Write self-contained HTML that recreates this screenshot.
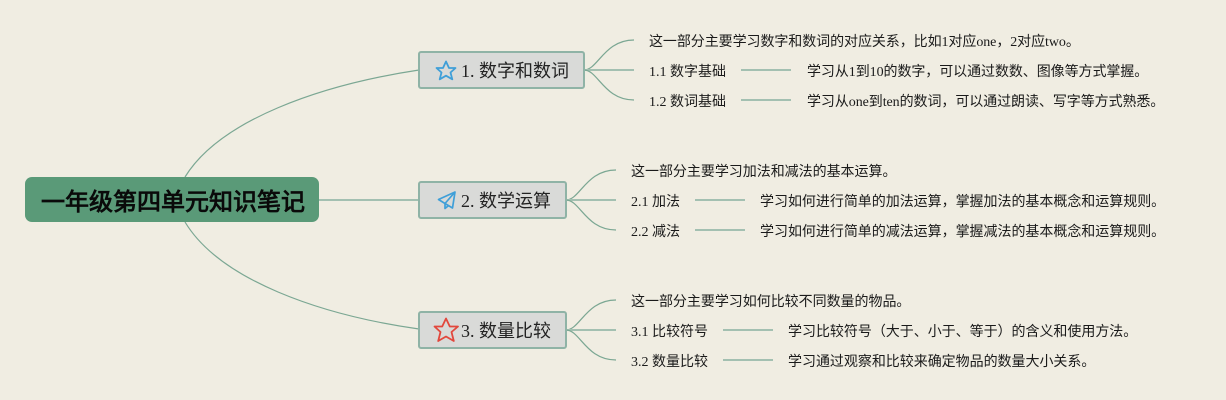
<!DOCTYPE html>
<html><head><meta charset="utf-8"><style>
html,body{margin:0;padding:0;background:#f0ede2;width:1226px;height:400px;overflow:hidden}
svg{display:block}
text{font-family:"Liberation Serif","WenQuanYi Zen Hei",sans-serif;fill:#1a1a1a}
.s{font-size:14px}
.a{letter-spacing:-.07px}
.b{letter-spacing:-.03px}
.t{font-size:18px;fill:#222}
.box{fill:#d9dad8;stroke:#8fb3a6;stroke-width:2}
.l{fill:none;stroke:#7ba793;stroke-width:1.2}
.h{fill:none;stroke:#a3c0b1;stroke-width:2}
</style></head><body>
<svg width="1226" height="400" viewBox="0 0 1226 400" xmlns="http://www.w3.org/2000/svg">
<rect width="1226" height="400" fill="#f0ede2"/>
<path class="l" d="M185 177C220 120 320 85 419 70"/>
<path class="l" d="M185 222C220 280 320 315 419 329"/>
<path class="h" d="M319 200H419"/>
<rect x="25" y="177" width="294" height="45" rx="7" fill="#5a9a78"/>
<text x="41" y="210" style="font-size:24px;font-weight:bold;fill:#0a0a0a">一年级第四单元知识笔记</text>

<path class="l" d="M584 70C598 70 604 40 634 40"/>
<path class="h" d="M584 70H634"/>
<path class="l" d="M584 70C598 70 604 100 634 100"/>
<rect class="box" x="419" y="52" width="165" height="36" rx="2"/>
<path d="M446 61.500L449 68H455.500L450.500 72.500L452.300 79.300L446 75.700L439.700 79.300L441.500 72.500L436.500 68H443Z" fill="none" stroke="#3f9fd8" stroke-width="1.800" stroke-linejoin="round"/>
<text class="t" x="461" y="77">1. 数字和数词</text>
<text class="s a" x="649" y="46">这一部分主要学习数字和数词的对应关系，比如1对应one，2对应two。</text>
<text class="s" x="649" y="76">1.1 数字基础</text>
<path class="h" d="M741 70H791"/>
<text class="s a" x="807" y="76">学习从1到10的数字，可以通过数数、图像等方式掌握。</text>
<text class="s" x="649" y="106">1.2 数词基础</text>
<path class="h" d="M741 100H791"/>
<text class="s a" x="807" y="106">学习从one到ten的数词，可以通过朗读、写字等方式熟悉。</text>

<path class="l" d="M566 200C580 200 586 170 616 170"/>
<path class="h" d="M566 200H616"/>
<path class="l" d="M566 200C580 200 586 230 616 230"/>
<rect class="box" x="419" y="182" width="147" height="36" rx="2"/>
<path d="M455 192L438.500 199.500L445 203.500L455 192L452.500 208L445 203.500V208.500L448.500 205.600" fill="none" stroke="#3f9fd8" stroke-width="1.700" stroke-linejoin="round"/>
<text class="t" x="461" y="207">2. 数学运算</text>
<text class="s b" x="631" y="176">这一部分主要学习加法和减法的基本运算。</text>
<text class="s" x="631" y="206">2.1 加法</text>
<path class="h" d="M695 200H745"/>
<text class="s b" x="760" y="206">学习如何进行简单的加法运算，掌握加法的基本概念和运算规则。</text>
<text class="s" x="631" y="236">2.2 减法</text>
<path class="h" d="M695 230H745"/>
<text class="s b" x="760" y="236">学习如何进行简单的减法运算，掌握减法的基本概念和运算规则。</text>

<path class="l" d="M566 330C580 330 586 300 616 300"/>
<path class="h" d="M566 330H616"/>
<path class="l" d="M566 330C580 330 586 360 616 360"/>
<rect class="box" x="419" y="312" width="147" height="36" rx="2"/>
<path d="M446 318.500L449.800 326.500H458L451.500 332L453.800 341L446 336.500L438.200 341L440.500 332L434.500 326.500H442.200Z" fill="none" stroke="#e2483d" stroke-width="1.800" stroke-linejoin="round"/>
<text class="t" x="461" y="337">3. 数量比较</text>
<text class="s b" x="631" y="306">这一部分主要学习如何比较不同数量的物品。</text>
<text class="s" x="631" y="336">3.1 比较符号</text>
<path class="h" d="M723 330H773"/>
<text class="s b" x="788" y="336">学习比较符号（大于、小于、等于）的含义和使用方法。</text>
<text class="s" x="631" y="366">3.2 数量比较</text>
<path class="h" d="M723 360H773"/>
<text class="s b" x="788" y="366">学习通过观察和比较来确定物品的数量大小关系。</text>
</svg>
</body></html>
